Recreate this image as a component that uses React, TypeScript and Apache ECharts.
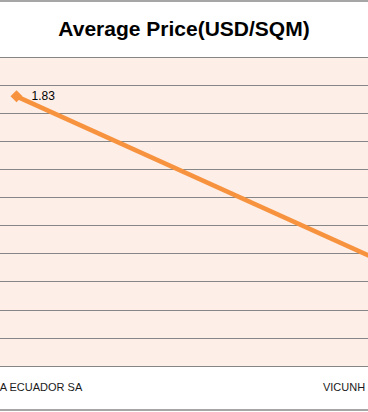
import React, { useEffect, useRef } from "react";
import * as echarts from "echarts";

const categories = ["A ECUADOR SA", "VICUNH"];
const prices = [1.83, 1.53];
const yMin = 1.35;
const yMax = 1.9;
const yInterval = 0.05;

export default function App() {
  const ref = useRef<HTMLDivElement>(null);
  useEffect(() => {
    if (!ref.current) return;
    const chart = echarts.init(ref.current, null, { renderer: "svg" });
    chart.setOption({
      animation: false,
      backgroundColor: "#ffffff",
      textStyle: { fontFamily: "Liberation Sans" },
      title: {
        text: "Average Price(USD/SQM)",
        left: "center",
        top: 13,
        textStyle: {
          fontSize: 21,
          fontWeight: "bold",
          color: "#000000",
          fontFamily: "Liberation Sans",
        },
      },
      graphic: [
        { type: "line", shape: { x1: 0, y1: 1, x2: 368, y2: 1 }, style: { stroke: "#888888", lineWidth: 1.5 } },
        { type: "line", shape: { x1: 0, y1: 410, x2: 368, y2: 410 }, style: { stroke: "#888888", lineWidth: 1.5 } },
      ],
      grid: [
        {
          left: -170,
          width: 746,
          top: 57,
          bottom: 46,
          show: true,
          backgroundColor: "#FDEEE8",
          borderWidth: 0,
          containLabel: false,
          outerBoundsMode: "none",
        },
        {
          left: -110.5,
          width: 606,
          top: 57,
          bottom: 46,
          show: false,
          containLabel: false,
          outerBoundsMode: "none",
        },
      ],
      xAxis: [
        {
          type: "category",
          gridIndex: 0,
          data: categories,
          boundaryGap: true,
          axisLine: { show: true, lineStyle: { color: "#868686", width: 1 } },
          axisTick: { show: false },
          axisLabel: { show: false },
        },
        {
          type: "category",
          gridIndex: 1,
          data: categories,
          boundaryGap: true,
          axisLine: { show: false },
          axisTick: { show: false },
          axisLabel: {
            interval: 0,
            margin: 15,
            fontSize: 11,
            color: "#1a1a1a",
          },
        },
      ],
      yAxis: [
        {
          type: "value",
          gridIndex: 0,
          min: yMin,
          max: yMax,
          interval: yInterval,
          axisLine: { show: false },
          axisTick: { show: false },
          axisLabel: { show: false },
          splitLine: { show: true, lineStyle: { color: "#868686", width: 1 } },
        },
        {
          type: "value",
          gridIndex: 1,
          min: yMin,
          max: yMax,
          interval: yInterval,
          show: false,
          splitLine: { show: false },
        },
      ],
      series: [
        {
          type: "line",
          xAxisIndex: 0,
          yAxisIndex: 0,
          data: prices.map((v, i) => ({
            value: v,
            label: { show: i === 0 },
          })),
          symbol: "diamond",
          symbolSize: 12,
          lineStyle: { color: "#F7933E", width: 4.5 },
          itemStyle: { color: "#F7933E" },
          label: {
            show: true,
            position: "right",
            distance: 9,
            fontSize: 12,
            color: "#000000",
            formatter: (p: any) => p.value.toFixed(2),
          },
        },
      ],
    });
    return () => chart.dispose();
  }, []);
  return (
    <div style={{ position: "fixed", left: 0, top: 0, width: 368, height: 412, overflow: "hidden" }}>
      <div ref={ref} style={{ width: 368, height: 412 }} />
    </div>
  );
}
